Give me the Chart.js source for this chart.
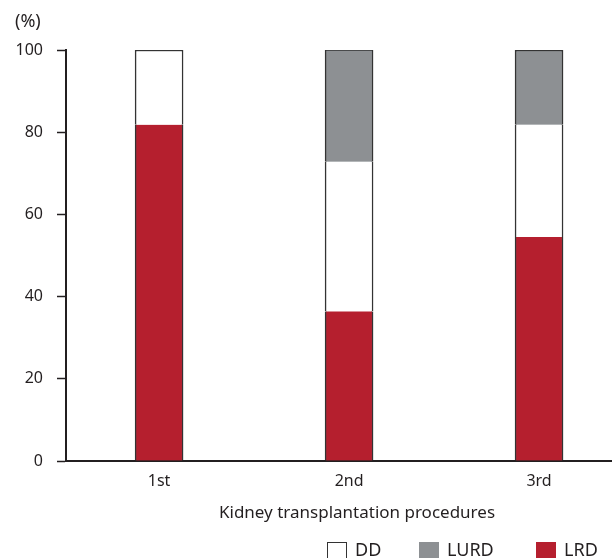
<!DOCTYPE html>
<html>
<head>
<meta charset="utf-8">
<script src="https://cdn.jsdelivr.net/npm/chart.js@4"></script>
<style>
  html, body { margin: 0; padding: 0; background: #fff; overflow: hidden; }
  #wrap { position: relative; width: 612px; height: 558px; }
</style>
</head>
<body>
<div id="wrap"><canvas id="myChart"></canvas></div>
<script>
// values (%)
const categories = [ '1st', '2nd', '3rd' ];
const lrdValues  = [ 81.8, 36.4, 54.5 ];
const ddValues   = [ 18.2, 36.4, 27.3 ];
const lurdValues = [ 0, 27.3, 18.2 ];
const legendOrder = [ 'DD', 'LURD', 'LRD' ];
const xTitle = 'Kidney transplantation procedures';

const textColor = '#231f20';
const barEdge = '#333333';

function toPoints( vals ){
  return vals.map( (v, i) => ({ x: i, y: v }) );
}

// only outer edges of each stacked bar get a border
function edgeWidth( ctx ){
  if( ctx.type !== 'data' ) return 1.5;
  let sets = ctx.chart.data.datasets;
  let top = true;
  for( let k = ctx.datasetIndex + 1 ; k < sets.length ; k++ ){
    if( sets[k].data[ctx.dataIndex].y > 0 ) top = false;
  }
  return { left: 1.5, right: 1.5, top: top ? 1.5 : 0, bottom: 0 };
}

// axis title (sits right of centre in the original) and legend below it
const bottomTexts = {
  id: 'bottomTexts',
  afterDraw( chart ){
    let ctx = chart.ctx;
    ctx.save();
    ctx.fillStyle = textColor;
    ctx.font = '17px "Noto Sans"';
    ctx.textAlign = 'center';
    ctx.textBaseline = 'middle';
    ctx.fillText( xTitle, 357, 513 );

    let xs = [ 327, 419, 536 ];
    ctx.font = '18px "Noto Sans"';
    ctx.textBaseline = 'alphabetic';
    ctx.textAlign = 'left';
    legendOrder.forEach( (name, i) => {
      let ds = chart.data.datasets.find( d => d.label === name );
      ctx.fillStyle = ds.backgroundColor;
      ctx.fillRect( xs[i], 542, 20, 18 );
      if( name === 'DD' ){
        ctx.strokeStyle = barEdge;
        ctx.lineWidth = 1;
        ctx.strokeRect( xs[i] + 0.5, 542.5, 19, 18 );
      }
      ctx.fillStyle = textColor;
      ctx.fillText( name, xs[i] + 28, 555.5 );
    });
    ctx.restore();
  }
};

window.addEventListener( 'load', () => {
  let ctx = document.getElementById( 'myChart' ).getContext( '2d' );
  new Chart( ctx, {
    type: 'bar',
    data: {
      datasets: [
        { label: 'LRD',  data: toPoints( lrdValues ),  backgroundColor: '#b51f2e' },
        { label: 'DD',   data: toPoints( ddValues ),   backgroundColor: '#ffffff' },
        { label: 'LURD', data: toPoints( lurdValues ), backgroundColor: '#8d9093' }
      ]
    },
    options: {
      responsive: true,
      maintainAspectRatio: false,
      animation: false,
      datasets: {
        bar: {
          barThickness: 48,
          borderColor: barEdge,
          borderWidth: edgeWidth,
          borderSkipped: false
        }
      },
      layout: { padding: { left: 15, right: 0, top: 0, bottom: 0 } },
      plugins: {
        legend: { display: false },
        tooltip: { enabled: false },
        title: {
          display: true,
          text: '(%)',
          align: 'start',
          color: textColor,
          font: { family: 'Noto Sans', size: 18, weight: 'normal' },
          padding: { top: 11, bottom: 17.4 }
        }
      },
      scales: {
        x: {
          type: 'linear',
          stacked: true,
          offset: false,
          min: -0.49,
          max: 2.384,
          grid: { display: false, drawTicks: false },
          border: { display: true, color: textColor, width: 2 },
          afterBuildTicks( scale ){
            scale.ticks = categories.map( (c, i) => ({ value: i }) );
          },
          afterFit( scale ){
            scale.height = 97;
            scale.paddingLeft = 0;
            scale.paddingRight = 0;
          },
          ticks: {
            autoSkip: false,
            padding: 11,
            color: textColor,
            font: { family: 'Noto Sans', size: 16 },
            callback: ( v ) => categories[v]
          }
        },
        y: {
          stacked: true,
          min: 0,
          max: 100,
          grid: { drawOnChartArea: false, drawTicks: true, tickLength: 9, tickColor: textColor, tickWidth: 1.5 },
          border: { display: true, color: textColor, width: 2 },
          afterFit( scale ){
            scale.width = 51;
          },
          ticks: {
            stepSize: 20,
            padding: 14,
            color: textColor,
            font: { family: 'Noto Sans', size: 16 }
          }
        }
      }
    },
    plugins: [ bottomTexts ]
  });
});
</script>
</body>
</html>
